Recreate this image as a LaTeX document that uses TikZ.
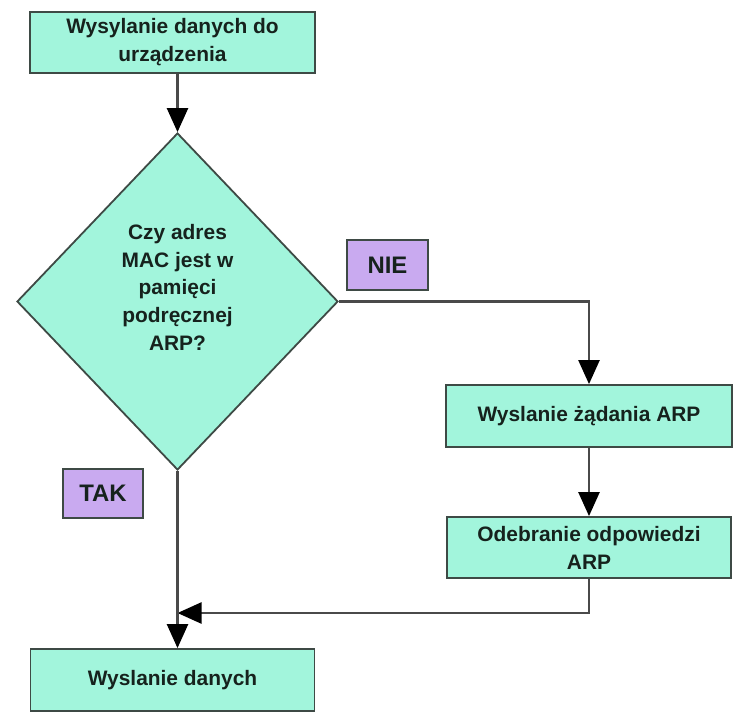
\documentclass[tikz,border=0pt]{standalone}
\usepackage{fontspec}
\setmainfont{Liberation Sans}
\usetikzlibrary{shapes.geometric,arrows.meta}
\definecolor{boxfill}{HTML}{A2F5DC}
\definecolor{lblfill}{HTML}{C9AAF0}
\definecolor{edge}{HTML}{3E4A45}
\definecolor{txt}{HTML}{16221D}
\definecolor{linec}{HTML}{4A4A4A}
\begin{document}
\begin{tikzpicture}[x=1bp,y=-1bp,
  box/.style={rectangle, draw=edge, fill=boxfill, line width=1.8bp, inner sep=0pt,
    align=center, text=txt, font=\fontsize{21}{28}\selectfont\bfseries},
  lbl/.style={rectangle, draw=edge, fill=lblfill, line width=1.8bp, inner sep=0pt,
    align=center, text=txt, font=\fontsize{24}{28}\selectfont\bfseries},
  dec/.style={diamond, draw=edge, fill=boxfill, line width=1.8bp, inner sep=0pt,
    align=center, text=txt, font=\fontsize{21}{28}\selectfont\bfseries},
  arr/.style={draw=linec, line width=2.4bp, -{Triangle[length=24bp,width=21bp,color=black]}}]
\useasboundingbox[fill=white] (0,0) rectangle (747,720);

\node[box, minimum width=285bp, minimum height=61bp] (top) at (172.5,42.5)
  {Wysylanie danych do\\urządzenia};
\node[dec, minimum width=321bp, minimum height=337bp] (dia) at (177.5,301.5)
  {Czy adres\\MAC jest w\\pamięci\\podręcznej\\ARP?\\[-8bp]\strut};
\node[lbl, minimum width=81bp, minimum height=50bp] (nie) at (387.5,265) {NIE};
\node[lbl, minimum width=80bp, minimum height=49bp] (tak) at (103,493.5) {TAK};
\node[box, minimum width=286bp, minimum height=62bp] (b2) at (589,416)
  {Wyslanie żądania ARP};
\node[box, minimum width=284bp, minimum height=61bp] (b3) at (589,547.5)
  {Odebranie odpowiedzi\\ARP};
\node[box, minimum width=284bp, minimum height=62bp] (bot) at (172.5,680)
  {Wyslanie danych};
\coordinate (ret) at (0,613);

\draw[arr] (top.south -| dia.north) -- (dia.north);
\draw[arr] (dia.east) -| (b2.north);
\draw[arr] (b2.south) -- (b3.north);
\draw[arr] (b3.south) |- (ret -| dia.south);
\draw[arr] (dia.south) -- (bot.north -| dia.south);
\end{tikzpicture}
\end{document}
